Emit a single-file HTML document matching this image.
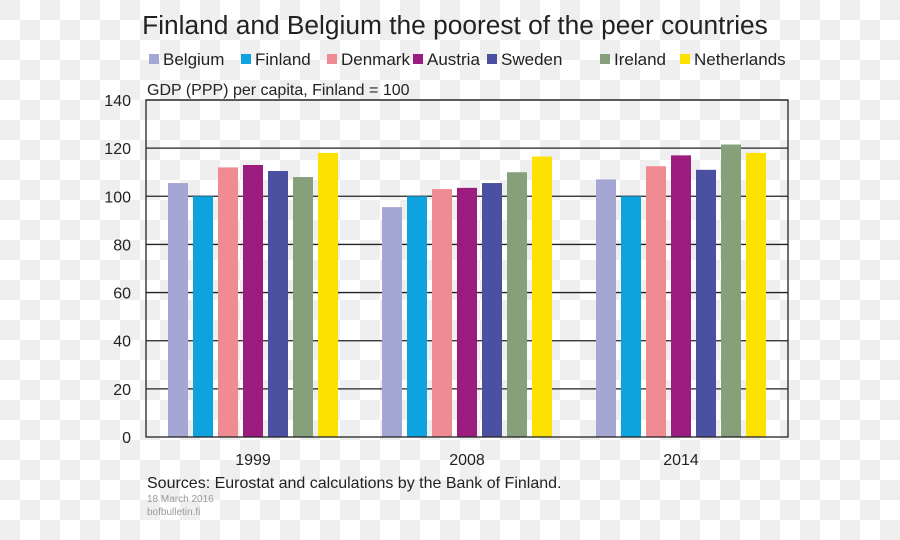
<!DOCTYPE html>
<html><head><meta charset="utf-8"><style>
html,body{margin:0;padding:0;}
body{width:900px;height:540px;overflow:hidden;font-family:"Liberation Sans",Arial,sans-serif;
background-color:#fff;
background-image:linear-gradient(45deg,#efefef 25%,transparent 25%,transparent 75%,#efefef 75%),linear-gradient(45deg,#efefef 25%,transparent 25%,transparent 75%,#efefef 75%);
background-size:40px 40px;background-position:20px 0,0 20px;}
</style></head><body>
<svg id="chart" width="900" height="540" style="position:absolute;left:0;top:0">
<text x="455" y="34" text-anchor="middle" font-size="26.3" fill="#222">Finland and Belgium the poorest of the peer countries</text>
<text x="147" y="95" font-size="16" fill="#222">GDP (PPP) per capita, Finland = 100</text>
<text x="147" y="488" font-size="16" fill="#222">Sources: Eurostat and calculations by the Bank of Finland.</text>
<text x="147" y="502" font-size="10" fill="#999">18 March 2016</text>
<text x="147" y="515" font-size="10" fill="#999">bofbulletin.fi</text>
<g id="legend"></g><g id="grid"></g><g id="bars"></g><g id="axes"></g>
</svg>
<script>
const categories=["1999","2008","2014"];
const seriesNames=["Belgium","Finland","Denmark","Austria","Sweden","Ireland","Netherlands"];
const belgium=[105.5,95.5,107];
const finland=[100,100,100];
const denmark=[112,103,112.5];
const austria=[113,103.5,117];
const sweden=[110.5,105.5,111];
const ireland=[108,110,121.5];
const netherlands=[118,116.5,118];
const yTicks=[0,20,40,60,80,100,120,140];
const seriesValues=[belgium,finland,denmark,austria,sweden,ireland,netherlands];
const colors=["#a4a7d3","#0ea2df","#ef8c93","#9b1c7e","#4b51a0","#87a07c","#fde100"];
const NS="http://www.w3.org/2000/svg";
const L=146,R=788,T=100,B=437,yMax=140;
const y=v=>B-(v/yMax)*(B-T);
const band=(R-L)/categories.length;
const xc=i=>L+band*(i+0.5);
function mk(tag,attrs,parent){const e=document.createElementNS(NS,tag);for(const k in attrs)e.setAttribute(k,attrs[k]);parent.appendChild(e);return e;}
const grid=document.getElementById('grid'),bars=document.getElementById('bars'),axes=document.getElementById('axes'),legend=document.getElementById('legend');
yTicks.forEach(t=>{
  if(t>0){const g=mk('line',{x1:L,x2:R,y1:y(t),y2:y(t),stroke:'#222','stroke-width':1.3},grid);
  
  }
  const tx=mk('text',{x:131,y:y(t)+6,'text-anchor':'end','font-size':16,fill:'#222'},axes);
  tx.textContent=t;
  
  
});
const bw=20,step=25;
categories.forEach((c,i)=>{
  seriesValues.forEach((vals,s)=>{
    const x=xc(i)+(s-3)*step-bw/2;
    const r=mk('rect',{x:x,y:y(vals[i]),width:bw,height:B-y(vals[i]),fill:colors[s]},bars);
    
    
  });
  const t=mk('text',{x:xc(i),y:465,'text-anchor':'middle','font-size':16,fill:'#222'},axes);
  t.textContent=c;
  
  
});
const frame=mk('rect',{x:L,y:T,width:R-L,height:B-T,fill:'none',stroke:'#222','stroke-width':1.3},axes);


const lx=[149,241,327,413,487,600,680];
seriesNames.forEach((n,s)=>{
  const g=mk('g',{},legend);
  
  
  mk('rect',{x:lx[s],y:54,width:10,height:10,fill:colors[s]},g);
  const t=mk('text',{x:lx[s]+14,y:65,'font-size':17,fill:'#222'},g);
  t.textContent=n;
});
</script>
</body></html>
